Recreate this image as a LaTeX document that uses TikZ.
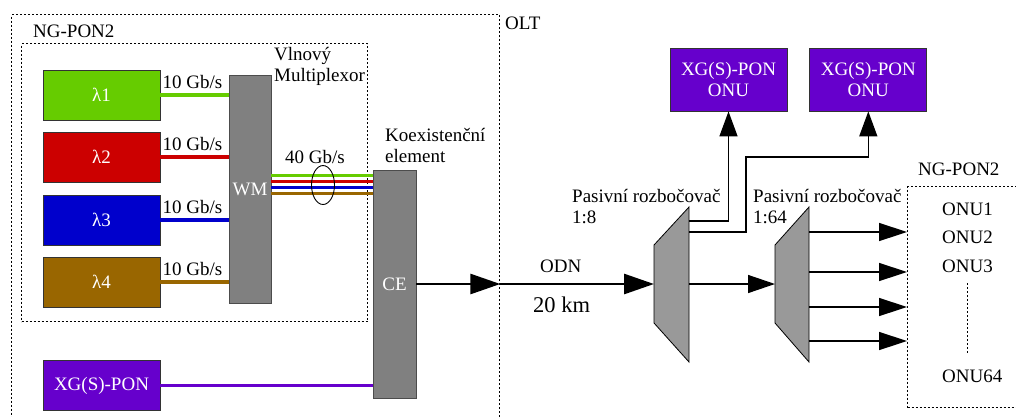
\documentclass[tikz,border=0pt]{standalone}
\usepackage{fontspec}
\setmainfont{Liberation Serif}
\usetikzlibrary{arrows.meta,positioning,shapes.geometric}
\definecolor{lamgreen}{HTML}{66CC00}
\definecolor{lamred}{HTML}{CC0000}
\definecolor{lamblue}{HTML}{0000CC}
\definecolor{lambrown}{HTML}{996600}
\definecolor{xgviolet}{HTML}{6600CC}
\definecolor{wmgray}{HTML}{808080}
\definecolor{splgray}{HTML}{999999}

\begin{document}
\begin{tikzpicture}[x=1pt, y=-1pt,
  font=\fontsize{19}{21}\selectfont,
  src/.style={rectangle, draw=black!80, line width=0.8pt, minimum width=117pt,
              minimum height=50pt, inner sep=0pt, text=white},
  onu/.style={src, fill=xgviolet, align=center, minimum height=63pt},
  blk/.style={rectangle, draw=black!70, line width=0.8pt, fill=wmgray, text=white,
              minimum width=42pt, minimum height=228pt, inner sep=0pt},
  zone/.style={rectangle, draw, dash pattern=on 2pt off 2pt, line width=1.3pt,
               inner sep=0pt, anchor=north west},
  lbl/.style={inner sep=0pt, anchor=base west, align=left},
  fib/.style={line width=3.5pt},
  spl/.style={draw, line width=0.8pt, fill=splgray},
  odnar/.style={-{Triangle[length=30pt,width=20pt]}, line width=2.8pt},
  ar/.style={-{Triangle[length=27pt,width=18pt]}, line width=1.4pt},
  upar/.style={-{Triangle[length=25pt,width=18pt]}, line width=1.4pt},
  outar/.style={-{Triangle[length=28pt,width=18pt]}, line width=1.4pt}]

  \clip (0,0) rectangle (1016,416);

  % dotted areas
  \node[zone, minimum width=488pt, minimum height=430pt] (olt) at (11,14) {};
  \node[zone, minimum width=346pt, minimum height=278pt] (ngl) at (21,43) {};
  \node[zone, minimum width=130pt, minimum height=221pt] (ngr) at (907,186) {};
  \node[lbl] (oltlbl) at (505,29) {OLT};
  \node[lbl] (ngllbl) at (33,37) {NG-PON2};
  \node[lbl] (ngrlbl) at (918,175) {NG-PON2};

  % transmitters
  \node[src, fill=lamgreen] (l1) at (101.5,95) {λ1};
  \node[src, fill=lamred] (l2) at (101.5,157) {λ2};
  \node[src, fill=lamblue] (l3) at (101.5,220) {λ3};
  \node[src, fill=lambrown] (l4) at (101.5,282) {λ4};
  \node[src, fill=xgviolet] (xg) at (101.5,385.5) {XG(S)-PON};

  \node[blk] (wm) at (250,189) {WM};
  \node[blk, minimum width=43pt] (ce) at (394.5,284) {CE};
  \node[lbl] (wmlbl) at (274,81) {Vlnový\\Multiplexor};
  \node[lbl] (celbl) at (385,162) {Koexistenční\\element};

  \foreach \n/\c in {l1/lamgreen, l2/lamred, l3/lamblue, l4/lambrown} {
    \draw[fib, \c] (\n.east) -- (\n.east -| wm.west);
    \node[lbl] (rate\n) at ([xshift=2pt,yshift=7pt]\n.east) {10 Gb/s};
  }

  % 40 Gb/s bundle
  \foreach \c/\s [count=\i] in {lamgreen/14, lamred/8, lamblue/2, lambrown/-4} {
    \coordinate (f\i) at ([yshift=\s pt]wm.east);
    \draw[fib, line width=3pt, \c] (f\i) -- (f\i -| ce.west);
  }
  \node[draw, ellipse, line width=0.9pt, minimum width=23pt, minimum height=39pt,
        inner sep=0pt] (bundle) at (323,185) {};
  \node[lbl] (rate40) at (285,163) {40 Gb/s};

  \draw[fib, xgviolet] (xg.east) -- (xg.east -| ce.west);

  % ODN
  \coordinate (oltout) at (ce.east -| olt.east);
  \draw[odnar] (ce.east) -- (oltout);
  \node[lbl] (odn) at (540,272) {ODN};
  \node[lbl, font=\fontsize{22.5}{26}\selectfont] (dist) at (533,312) {20 km};

  % splitters
  \draw[spl] (654,245) -- (689,207) -- (689,362) -- (654,323) -- cycle;
  \draw[spl] (775,245) -- (809,207) -- (809,362) -- (775,323) -- cycle;
  \coordinate (s1w) at (654,284);
  \coordinate (s1e) at (689,284);
  \coordinate (s1a) at (689,221);
  \coordinate (s1b) at (689,232);
  \coordinate (s2w) at (775,284);
  \node[lbl] (sp1lbl) at (572,223) {Pasivní rozbočovač\\1:8};
  \node[lbl] (sp2lbl) at (753,223) {Pasivní rozbočovač\\1:64};

  \draw[odnar] (oltout) -- (s1w);
  \draw[ar] (s1e) -- (s2w);

  % XG(S)-PON ONUs
  \node[onu] (onu1) at (728.5,79.5) {XG(S)-PON\\ONU};
  \node[onu, right=22pt of onu1] (onu2) {XG(S)-PON\\ONU};
  \coordinate (bend) at (746,157);
  \draw[upar] (s1a) -| (onu1.south);
  \draw[upar] (s1b) -| (bend) -| (onu2.south);

  % NG-PON2 ONUs
  \foreach \y [count=\i] in {232,272,307,341} {
    \coordinate (s2o\i) at (809,\y);
    \draw[outar] (s2o\i) -- (s2o\i -| ngr.west);
  }
  \node[lbl] (o1) at (942,215) {ONU1};
  \node[lbl] (o2) at (942,243) {ONU2};
  \node[lbl] (o3) at (942,272) {ONU3};
  \node[lbl] (o64) at (942,382) {ONU64};
  \draw[dash pattern=on 2pt off 2pt, line width=1.3pt]
    ([yshift=-11pt]o3.south) -- ++(0,70);
\end{tikzpicture}
\end{document}
